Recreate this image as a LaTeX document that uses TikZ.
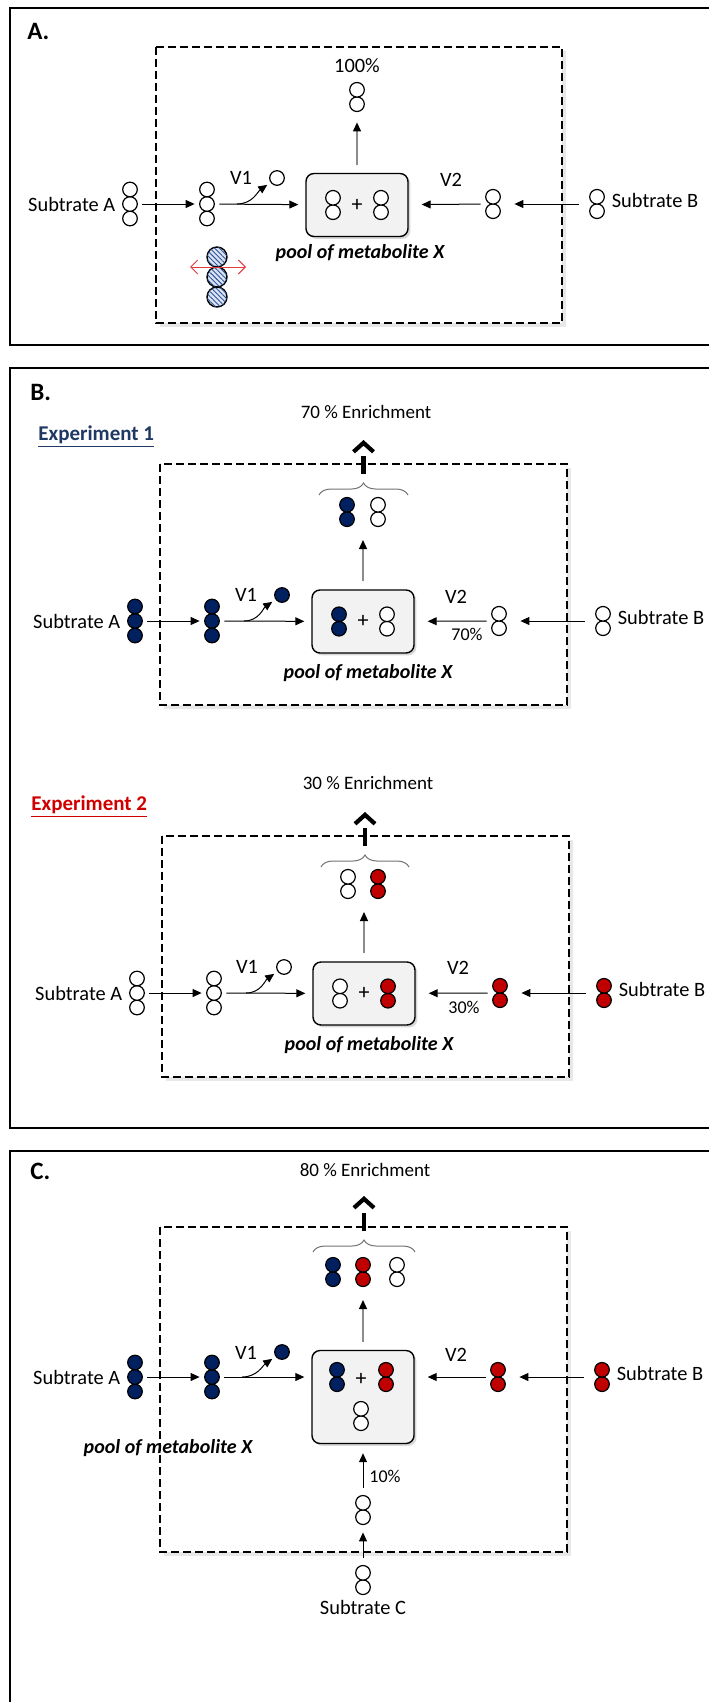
\documentclass[tikz,border=0pt]{standalone}
\usepackage{fontspec}
\setmainfont{Carlito}
\usetikzlibrary{arrows.meta,positioning,shadows,patterns.meta,decorations.pathreplacing}
\definecolor{molblue}{HTML}{002060}
\definecolor{molred}{HTML}{C00000}
\definecolor{expblue}{HTML}{1F3864}
\definecolor{expred}{HTML}{D00000}
\definecolor{hatchbg}{HTML}{DAE3F3}
\definecolor{hatchln}{HTML}{2F5597}
\definecolor{swred}{HTML}{E03C3C}
\begin{document}
\begin{tikzpicture}[x=0.5pt,y=0.5pt,>={Triangle[length=4.5pt,width=4pt]},
  font=\fontsize{10.2pt}{12pt}\selectfont,every node/.style={inner sep=1pt},
  flow/.style={->,line width=0.5pt},
  upflow/.style={draw=black!45,line width=0.6pt,-{Triangle[length=4.5pt,width=4pt,black]}},
  mono/.style={circle,draw,line width=0.6pt,fill=#1,minimum size=7.3pt,inner sep=0pt},
  dimer/.style={minimum width=12pt,minimum height=16pt,inner sep=0pt,
    path picture={\foreach \k in {-1,1}
      \draw[line width=0.6pt,fill=#1] ([yshift=\k*3.6pt]path picture bounding box.center) circle (3.65pt);}},
  trimer/.style={minimum width=12pt,minimum height=24pt,inner sep=0pt,
    path picture={\foreach \k in {-1,0,1}
      \draw[line width=0.6pt,fill=#1] ([yshift=\k*7.25pt]path picture bounding box.center) circle (3.65pt);}},
  hatch/.style={minimum width=12pt,minimum height=32pt,inner sep=0pt,
    path picture={\foreach \k in {-1,0,1}
      \draw[line width=0.7pt,fill=hatchbg,postaction={pattern={Lines[angle=-45,distance=1.7pt,line width=0.45pt]},pattern color=hatchln}]
        ([yshift=\k*10pt]path picture bounding box.center) circle (5pt);}},
  swing/.style={draw=swred,line width=0.5pt,{Straight Barb[length=3.5pt,width=7pt]}-{Straight Barb[length=3.5pt,width=7pt]}},
  pool/.style={draw,line width=0.7pt,rounded corners=4pt,fill=black!5,minimum width=51pt,minimum height=31.5pt,
    font=\fontsize{11pt}{12pt}\selectfont,drop shadow={opacity=0.3,shadow xshift=1.2pt,shadow yshift=-1.2pt}},
  poollabel/.style={font=\fontsize{10pt}{12pt}\selectfont\bfseries\itshape},
  region/.style={draw,line width=0.6pt,dash pattern=on 4pt off 2pt,fill=white,
    drop shadow={opacity=0.18,shadow xshift=2pt,shadow yshift=-2pt}},
  panel/.style={draw,line width=0.9pt},
  panellabel/.style={anchor=west,font=\fontsize{12.5pt}{14pt}\selectfont\bfseries},
  explabel/.style={anchor=west,font=\fontsize{10.5pt}{12pt}\selectfont\bfseries},
  brace/.style={decorate,decoration={brace,amplitude=6pt},draw=black!55,line width=0.5pt},
  enrich/.style={line width=2.1pt,dash pattern=on 9pt off 8pt,-{Straight Barb[length=4.5pt,width=10pt]}},
  small/.style={font=\fontsize{9.5pt}{11pt}\selectfont},
  tiny/.style={font=\fontsize{9pt}{11pt}\selectfont}]
\useasboundingbox (0,0) rectangle (708,-1702);

\draw[panel] (10,-8) rectangle (712,-345);
\node[panellabel] (labA) at (25,-31) {A.};
\draw[region] (156,-47) rectangle (562,-323);
\node (pctA) at (357,-66) {100\%};
\node[dimer=white] (prodA) at (357,-97) {};
\node[pool] (poolA) at (357,-205) {+};
\node[dimer=white] (inA1) at (333,-205) {};
\node[dimer=white] (inA2) at (381,-205) {};
\node[poollabel] (lblA) at (360,-253) {pool of metabolite X};
\node[trimer=white] (subA) at (130,-204) {};
\node[left=0pt of subA] (tsubA) {Subtrate A};
\node[trimer=white] (midA) at (207,-204) {};
\node[mono=white] (outA) at (277,-178) {};
\node (v1A) at (241,-178) {V1};
\node (v2A) at (451,-180) {V2};
\node[dimer=white] (midBA) at (493,-204) {};
\node[dimer=white] (subBA) at (597,-204) {};
\node[right=0pt of subBA,yshift=2pt] (tsubBA) {Subtrate B};
\node[hatch] (hatA) at (217,-277) {};
\coordinate (brA) at (237,-204);
\coordinate (swA1) at (190,-267);
\coordinate (swA2) at (246,-267);
\draw[flow] (subA) -- (midA);
\draw[flow,shorten >=3.5pt] (midA) -- (poolA);
\draw[flow,shorten >=2pt] (brA) to[out=0,in=215] (outA);
\draw[upflow,shorten <=4pt,shorten >=4.5pt] (poolA) -- (prodA);
\draw[flow,shorten >=6.5pt] (midBA) -- (poolA);
\draw[flow,shorten <=3pt,shorten >=4.5pt] (subBA) -- (midBA);
\draw[swing] (swA1) -- (swA2);

\draw[panel] (10,-368) rectangle (712,-1128);
\node[panellabel] (labB) at (28,-392) {B.};
\node[explabel,text=expblue] (exp1) at (36,-437) {\underline{Experiment 1}};
\node[small] (enr1) at (366,-412) {70 \% Enrichment};
\draw[region] (160,-464) rectangle (567,-705);
\draw[brace] (319,-495) -- (408,-495);
\coordinate (tip1) at (363.5,-474);
\coordinate (top1) at (363.5,-440);
\draw[enrich] (tip1) -- (top1);
\node[dimer=molblue] (prod1a) at (347,-512) {};
\node[dimer=white] (prod1b) at (378,-512) {};
\node[pool] (pool1) at (363,-621.5) {+};
\node[dimer=molblue] (in1a) at (339,-621.5) {};
\node[dimer=white] (in1b) at (387,-621.5) {};
\coordinate (up1) at (363,-540);
\node[poollabel] (lbl1) at (368,-673) {pool of metabolite X};
\node[trimer=molblue] (subA1) at (135,-621) {};
\node[left=0pt of subA1] (tsubA1) {Subtrate A};
\node[trimer=molblue] (midA1) at (212,-621) {};
\node[mono=molblue] (out1) at (282,-595) {};
\node (v1a) at (246,-595) {V1};
\node (v2a) at (456,-597) {V2};
\node[tiny] (pc1) at (467,-634) {70\%};
\node[dimer=white] (midB1) at (499,-621) {};
\node[dimer=white] (subB1) at (603,-621) {};
\node[right=0pt of subB1,yshift=2pt] (tsubB1) {Subtrate B};
\coordinate (br1) at (244,-621);
\draw[flow] (subA1) -- (midA1);
\draw[flow,shorten >=3.5pt] (midA1) -- (pool1);
\draw[flow,shorten >=2pt] (br1) to[out=0,in=215] (out1);
\draw[upflow,shorten <=4pt] (pool1) -- (up1);
\draw[flow,shorten >=6.5pt] (midB1) -- (pool1);
\draw[flow,shorten <=3pt,shorten >=4.5pt] (subB1) -- (midB1);

\node[explabel,text=expred] (exp2) at (29,-807) {\underline{Experiment 2}};
\node[small] (enr2) at (368,-783) {30 \% Enrichment};
\draw[region] (162,-836) rectangle (569,-1077);
\draw[brace] (321,-867) -- (409,-867);
\coordinate (tip2) at (365,-846);
\coordinate (top2) at (365,-812);
\draw[enrich] (tip2) -- (top2);
\node[dimer=white] (prod2a) at (348,-884) {};
\node[dimer=molred] (prod2b) at (378,-884) {};
\node[pool] (pool2) at (364,-993.5) {+};
\node[dimer=white] (in2a) at (340,-993.5) {};
\node[dimer=molred] (in2b) at (388,-993.5) {};
\coordinate (up2) at (364,-912);
\node[poollabel] (lbl2) at (369,-1045) {pool of metabolite X};
\node[trimer=white] (subA2) at (137,-993) {};
\node[left=0pt of subA2] (tsubA2) {Subtrate A};
\node[trimer=white] (midA2) at (214,-993) {};
\node[mono=white] (out2) at (284,-967) {};
\node (v1b) at (247,-967) {V1};
\node (v2b) at (458,-968) {V2};
\node[tiny] (pc2) at (464,-1007) {30\%};
\node[dimer=molred] (midB2) at (500,-993) {};
\node[dimer=molred] (subB2) at (604,-993) {};
\node[right=0pt of subB2,yshift=2pt] (tsubB2) {Subtrate B};
\coordinate (br2) at (246,-993);
\draw[flow] (subA2) -- (midA2);
\draw[flow,shorten >=3.5pt] (midA2) -- (pool2);
\draw[flow,shorten >=2pt] (br2) to[out=0,in=215] (out2);
\draw[upflow,shorten <=4pt] (pool2) -- (up2);
\draw[flow,shorten >=6.5pt] (midB2) -- (pool2);
\draw[flow,shorten <=3pt,shorten >=4.5pt] (subB2) -- (midB2);

\draw[panel] (10,-1151) rectangle (712,-1720);
\node[panellabel] (labC) at (28,-1171) {C.};
\node[small] (enr3) at (365,-1170) {80 \% Enrichment};
\draw[region] (160,-1227) rectangle (567,-1552);
\draw[brace] (313,-1252) -- (415,-1252);
\coordinate (tip3) at (364,-1231);
\coordinate (top3) at (364,-1196);
\draw[enrich] (tip3) -- (top3);
\node[dimer=molblue] (prod3a) at (333,-1272) {};
\node[dimer=molred] (prod3b) at (363,-1272) {};
\node[dimer=white] (prod3c) at (397,-1272) {};
\node[pool,minimum height=46.5pt] (pool3) at (363,-1397) {};
\node[font=\fontsize{11pt}{12pt}\selectfont] (plus3) at (361,-1379) {+};
\node[dimer=molblue] (in3a) at (337,-1377) {};
\node[dimer=molred] (in3b) at (386,-1377) {};
\node[dimer=white] (in3c) at (361,-1416) {};
\coordinate (up3) at (363,-1300);
\node[poollabel] (lbl3) at (168,-1448) {pool of metabolite X};
\node[trimer=molblue] (subA3) at (135,-1377) {};
\node[left=0pt of subA3] (tsubA3) {Subtrate A};
\node[trimer=molblue] (midA3) at (212,-1377) {};
\node[mono=molblue] (out3) at (282,-1352) {};
\node (v1c) at (246,-1353) {V1};
\node (v2c) at (456,-1355) {V2};
\node[dimer=molred] (midB3) at (498,-1377) {};
\node[dimer=molred] (subB3) at (602,-1377) {};
\node[right=0pt of subB3,yshift=2pt] (tsubB3) {Subtrate B};
\node[dimer=white] (midC3) at (363,-1510) {};
\node[tiny] (pc3) at (385,-1476) {10\%};
\node[dimer=white] (subC3) at (363,-1580) {};
\node[below=1pt of subC3] (tsubC3) {Subtrate C};
\coordinate (br3) at (242,-1377);
\draw[flow] (subA3) -- (midA3);
\draw[flow,shorten >=3.5pt] (midA3) -- (midA3 -| pool3.west);
\draw[flow,shorten >=2pt] (br3) to[out=0,in=215] (out3);
\draw[upflow,shorten <=4pt] (pool3) -- (up3);
\draw[flow,shorten >=6.5pt] (midB3) -- (midB3 -| pool3.east);
\draw[flow,shorten <=3pt,shorten >=4.5pt] (subB3) -- (midB3);
\draw[flow,shorten <=3pt,shorten >=4.5pt] (midC3) -- (pool3);
\draw[flow,shorten <=3pt,shorten >=3pt] (subC3) -- (midC3);
\end{tikzpicture}
\end{document}
